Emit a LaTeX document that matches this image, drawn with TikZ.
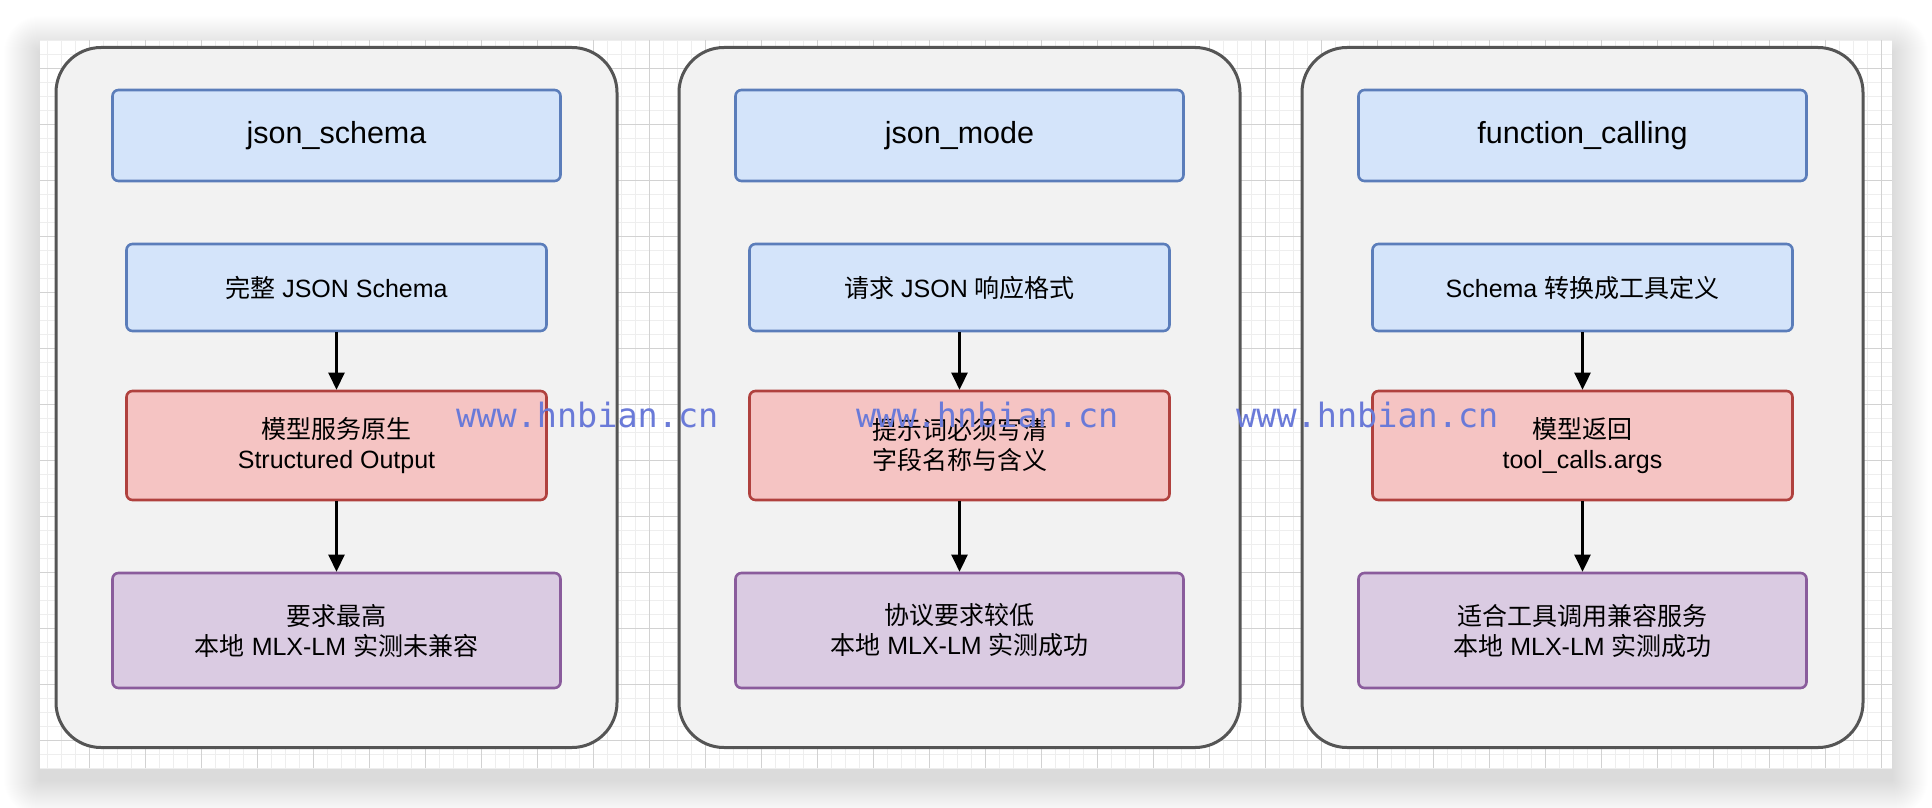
\documentclass[tikz,border=0pt]{standalone}
\usepackage{fontspec}
\setmainfont{Liberation Sans}
\newfontfamily\zh{Noto Sans CJK SC}
\newfontfamily\wmfont{DejaVu Sans Mono}
\usetikzlibrary{arrows.meta}
\definecolor{panelfill}{HTML}{F2F2F2}
\definecolor{paneldraw}{HTML}{555555}
\definecolor{bluefill}{HTML}{D4E4FA}
\definecolor{bluedraw}{HTML}{5B7DBA}
\definecolor{redfill}{HTML}{F5C4C3}
\definecolor{reddraw}{HTML}{B0413E}
\definecolor{purpfill}{HTML}{DACBE2}
\definecolor{purpdraw}{HTML}{8A5C9C}
\definecolor{gridminor}{HTML}{EEEEEE}
\definecolor{gridmajor}{HTML}{D2D2D2}
\definecolor{wmcolor}{HTML}{6A7AD8}
\tikzset{
  panel/.style={draw=paneldraw, fill=panelfill, line width=3pt, rounded corners=45pt,
    minimum width=561pt, minimum height=700pt, inner sep=0pt},
  basebox/.style={line width=2.6pt, rounded corners=6pt, inner sep=0pt, align=center,
    font=\fontsize{25}{30}\selectfont},
  titlebox/.style={basebox, draw=bluedraw, fill=bluefill, minimum width=448pt, minimum height=91pt,
    font=\fontsize{30.5}{36}\selectfont},
  bluebox/.style={basebox, draw=bluedraw, fill=bluefill, minimum width=420pt, minimum height=87pt},
  redbox/.style={basebox, draw=reddraw, fill=redfill, minimum width=420pt, minimum height=109pt},
  purpbox/.style={basebox, draw=purpdraw, fill=purpfill, minimum width=448pt, minimum height=115pt},
  flow/.style={line width=2.5pt, -{Triangle[length=17pt,width=16pt]}},
  watermark/.style={text=wmcolor, font=\wmfont\fontsize{33.5}{40}\selectfont, anchor=base west, inner sep=0pt}
}
\begin{document}
\begin{tikzpicture}[x=1pt,y=-1pt]
\useasboundingbox (0,0) rectangle (1932,808);
% soft shadow of the sheet
\foreach \r in {1,...,36} {
  \fill[black, opacity=0.0032, rounded corners=\r pt] (40-\r,52-\r) rectangle (1892+\r,780+\r);
}
\fill[white] (40,40) rectangle (1892,768);
% grid
\begin{scope}
\clip (40,40) rectangle (1892,768);
\foreach \i in {0,...,131} {
  \pgfmathsetmacro\gx{47.3+14*\i}
  \draw[gridminor, line width=1pt] (\gx,40) -- (\gx,768);
}
\foreach \i in {0,...,52} {
  \pgfmathsetmacro\gy{40.3+14*\i}
  \draw[gridminor, line width=1pt] (40,\gy) -- (1892,\gy);
}
\foreach \i in {0,...,32} {
  \pgfmathsetmacro\gx{89.3+56*\i}
  \draw[gridmajor, line width=1pt] (\gx,40) -- (\gx,768);
}
\foreach \i in {0,...,12} {
  \pgfmathsetmacro\gy{68.3+56*\i}
  \draw[gridmajor, line width=1pt] (40,\gy) -- (1892,\gy);
}
\end{scope}
% panels
\node[panel] (p1) at (336.5,397.5) {};
\node[panel] (p2) at (959.5,397.5) {};
\node[panel] (p3) at (1582.5,397.5) {};
% panel 1
\node[titlebox] (t1) at (336.5,135.5) {json\_schema};
\node[bluebox] (a1) at (336.5,287.5) {{\zh 完整} JSON Schema};
\node[redbox] (b1) at (336.5,445.5) {{\zh 模型服务原生}\\Structured Output};
\node[purpbox] (c1) at (336.5,630.5) {{\zh 要求最高}\\{\zh 本地} MLX-LM {\zh 实测未兼容}};
% panel 2
\node[titlebox] (t2) at (959.5,135.5) {json\_mode};
\node[bluebox] (a2) at (959.5,287.5) {{\zh 请求} JSON {\zh 响应格式}};
\node[redbox] (b2) at (959.5,445.5) {{\zh 提示词必须写清}\\{\zh 字段名称与含义}};
\node[purpbox] (c2) at (959.5,630.5) {{\zh 协议要求较低}\\{\zh 本地} MLX-LM {\zh 实测成功}};
% panel 3
\node[titlebox] (t3) at (1582.5,135.5) {function\_calling};
\node[bluebox] (a3) at (1582.5,287.5) {Schema {\zh 转换成工具定义}};
\node[redbox] (b3) at (1582.5,445.5) {{\zh 模型返回}\\tool\_calls.args};
\node[purpbox] (c3) at (1582.5,630.5) {{\zh 适合工具调用兼容服务}\\{\zh 本地} MLX-LM {\zh 实测成功}};
% arrows
\draw[flow] (a1.south) -- (b1.north);
\draw[flow] (b1.south) -- (c1.north);
\draw[flow] (a2.south) -- (b2.north);
\draw[flow] (b2.south) -- (c2.north);
\draw[flow] (a3.south) -- (b3.north);
\draw[flow] (b3.south) -- (c3.north);
% watermarks
\node[watermark] (w1) at (456,427) {www.hnbian.cn};
\node[watermark] (w2) at (856,427) {www.hnbian.cn};
\node[watermark] (w3) at (1236,427) {www.hnbian.cn};
\end{tikzpicture}
\end{document}
